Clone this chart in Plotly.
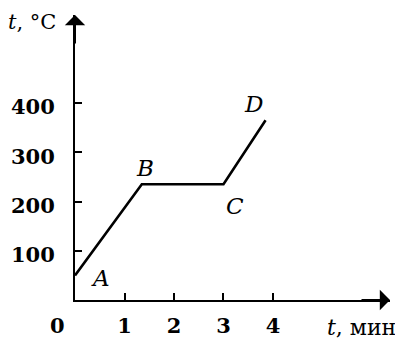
import plotly.graph_objects as go

# heating curve
time_min = [0, 1.35, 3.0, 3.85]
temp_c = [50, 235, 235, 365]
point_names = ["A", "B", "C", "D"]
x_ticks = [1, 2, 3, 4]
y_ticks = [100, 200, 300, 400]

# label nudges in pixels (style only)
name_shift = [(25, -3), (3, 16), (12, -22), (-12, 16)]

X_MAX, Y_MAX = 6.364, 578.7
SERIF = "DejaVu Serif"

fig = go.Figure()
fig.add_trace(go.Scatter(x=time_min, y=temp_c, mode="lines",
                         line={"color": "black", "width": 2.6},
                         hoverinfo="skip", showlegend=False))

for i, name in enumerate(point_names):
    dx, dy = name_shift[i]
    fig.add_annotation(x=time_min[i], y=temp_c[i], text=f"<i>{name}</i>", showarrow=False,
                       xshift=dx, yshift=dy, font={"family": SERIF, "size": 23, "color": "black"})

# arrow heads on both axes
fig.add_annotation(x=X_MAX, y=0, ax=-30, ay=0, text="", showarrow=True, arrowhead=1,
                   arrowsize=1.7, arrowwidth=2, arrowcolor="black")
fig.add_annotation(x=0, y=Y_MAX, ax=0, ay=30, text="", showarrow=True, arrowhead=1,
                   arrowsize=1.7, arrowwidth=2, arrowcolor="black")

# axis titles and the origin label (paper coords, outside the plot area)
fig.add_annotation(x=-0.054, y=0.975, xref="paper", yref="paper", text="<i>t</i>, °C",
                   showarrow=False, xanchor="right", yanchor="middle",
                   font={"family": SERIF, "size": 21, "color": "black"})
fig.add_annotation(x=1.025, y=-0.095, xref="paper", yref="paper", text="<i>t</i>, мин",
                   showarrow=False, xanchor="right", yanchor="middle",
                   font={"family": SERIF, "size": 22, "color": "black"})
fig.add_annotation(x=-0.054, y=-0.088, xref="paper", yref="paper", text="<b>0</b>",
                   showarrow=False, xanchor="center", yanchor="middle",
                   font={"family": SERIF, "size": 21, "color": "black"})

axis_common = dict(showline=True, linecolor="black", linewidth=2, ticks="inside", ticklen=7,
                   tickwidth=1.5, tickcolor="black", showgrid=False, zeroline=False,
                   automargin=False,
                   tickfont={"family": SERIF, "size": 21, "color": "black", "weight": "bold"})
fig.update_xaxes(range=[0, X_MAX], tickvals=x_ticks, ticklabelstandoff=6, **axis_common)
fig.update_yaxes(range=[0, Y_MAX], tickvals=y_ticks, ticklabelstandoff=14,
                 ticklabelshift=4, **axis_common)

# page body adds 8px, so the figure is 8px smaller than the window
fig.update_layout(width=395, height=331, margin={"l": 67, "r": 13, "t": 7, "b": 39},
                  paper_bgcolor="white", plot_bgcolor="white")
fig.write_html("out.html")
